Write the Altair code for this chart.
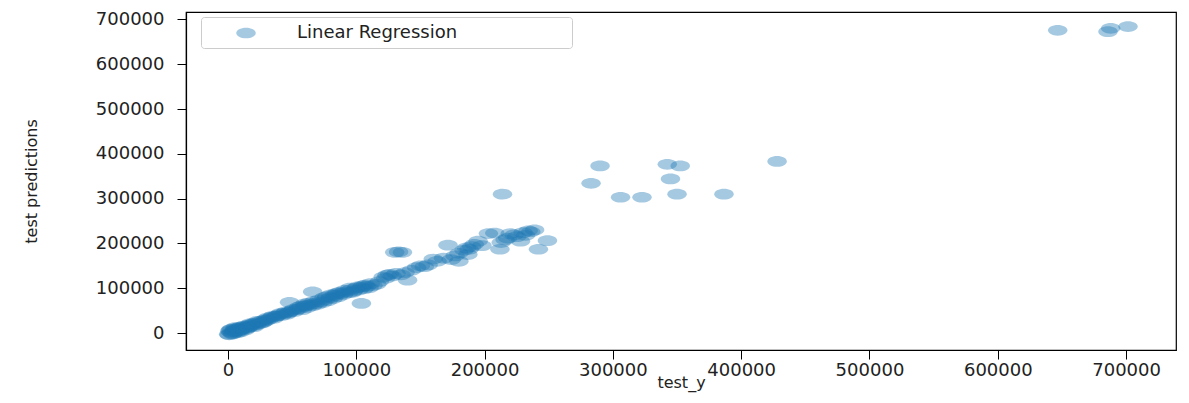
import altair as alt
import pandas as pd

test_y = [
    500, 1500, 2500, 3000, 4000, 5000, 5500, 6500, 7000, 8000, 9000, 10000, 11000, 12000, 13000,
    14000, 15000, 16000, 17000, 18000, 19000, 20000, 21000, 22500, 24000, 25000, 26500, 28000, 29000, 30000,
    32000, 34000, 36000, 38000, 40000, 42000, 44000, 46000, 48000, 50000, 52000, 54000, 56000, 58000,
    60000, 62000, 64000, 66000, 68000, 70000, 72000, 74000, 76000, 78000, 80000, 82000, 84000, 86000,
    88000, 90000, 92000, 94000, 96000, 98000, 100000, 102000, 104000, 106000, 108000, 110000, 113000, 116000,
    35000, 45000, 55000, 63000, 75000, 85000, 95000, 105000, 60000, 80000,
    1000, 2000, 3500, 4500, 6000, 7500, 8500, 9500, 11500, 13500, 15500, 17500, 20500, 23000, 27000,
    31000, 37000, 41000, 47000, 51000, 57000, 61000, 67000, 71000, 77000, 83000, 87000, 91000, 97000,
    101000, 107000, 111000, 118000,
    48000, 66000, 104000,
    121000, 124000, 126000, 123000, 128000, 131000, 135000, 138000, 130000, 133000, 136000, 140000,
    143000, 147000, 150000, 153000, 156000,
    160000, 163000, 168000, 171500, 174000, 177000, 180000, 184000, 186000, 188000, 190000, 192000,
    195000, 198000, 187000, 180000,
    203000, 208000, 212000, 213000, 216000, 218000, 220000, 223000, 225000, 228000, 230000, 232000,
    234000, 236000, 239000, 242000, 249000, 214000,
    283000, 290000, 306000, 322700, 342400, 344900, 350000, 352500, 386600, 428000,
    646700, 685900, 688000, 701500,
]
test_predictions = [
    -3000, 4000, 1000, 9000, -1000, 6000, 12000, 3000, 8000, 11000, 5000, 14000, 9000, 12000, 16000,
    10000, 15000, 13000, 18000, 16000, 20000, 17000, 22000, 19000, 24000, 21000, 27000, 25000, 30000, 28000,
    31000, 35000, 33000, 38000, 41000, 39000, 44000, 42000, 47000, 50000, 48000, 53000, 55000, 52000,
    60000, 57000, 63000, 61000, 66000, 64000, 70000, 68000, 75000, 72000, 79000, 77000, 84000, 81000,
    88000, 86000, 92000, 90000, 97000, 94000, 100000, 96000, 102000, 99000, 104000, 101000, 106000, 109000,
    38000, 47000, 58000, 67000, 79000, 89000, 100000, 105000, 65000, 85000,
    -4000, 7000, -2000, 3000, 10000, 1000, 6000, 2000, 13000, 7000, 11000, 21000, 14000, 26000, 23000,
    34000, 37000, 44000, 45000, 53000, 60000, 62000, 70000, 74000, 81000, 86000, 91000, 95000, 91000,
    103000, 107000, 110000, 115000,
    68500, 92000, 66000,
    125000, 129000, 131000, 122000, 127000, 133000, 130000, 135000, 180000, 181000, 180000, 118000,
    140000, 146000, 150000, 148000, 152000,
    165000, 160000, 167000, 196000, 164000, 172000, 178000, 185000, 190000, 187000, 193000, 198000,
    205000, 195000, 175000, 160000,
    222000, 223000, 187000, 202000, 208000, 212000, 222000, 219000, 215000, 205000, 224000, 218000,
    228000, 226000, 230000, 187000, 206000, 310000,
    334000, 373000, 303000, 303000, 376500, 344000, 310000, 373000, 310000, 383000,
    675700, 672600, 680000, 684000,
]
series_name = "Linear Regression"
x_ticks = [0, 100000, 200000, 300000, 400000, 500000, 600000, 700000]
y_ticks = [0, 100000, 200000, 300000, 400000, 500000, 600000, 700000]
x_domain = [-32700, 738900]
y_domain = [-37900, 716500]

df = pd.DataFrame({"test_y": test_y, "pred": test_predictions, "series": series_name})

# horizontally stretched marker, like the reference
ELLIPSE = "M -1 0 A 1 0.55 0 1 1 1 0 A 1 0.55 0 1 1 -1 0 Z"
pad = "\u2003" * 6 + "\u200b"

chart = alt.Chart(df).mark_point(
    shape=ELLIPSE, filled=True, size=380, opacity=0.4, strokeWidth=0, color="#1f77b4"
).encode(
    x=alt.X(
        "test_y:Q",
        scale=alt.Scale(domain=x_domain, nice=False, zero=False),
        axis=alt.Axis(values=x_ticks, format="d", title="test_y", labelPadding=2, titlePadding=-5,
                      tickSize=9),
    ),
    y=alt.Y(
        "pred:Q",
        scale=alt.Scale(domain=y_domain, nice=False, zero=False),
        axis=alt.Axis(values=y_ticks, format="d", title="test predictions", labelPadding=13,
                      titlePadding=56, tickSize=9),
    ),
    color=alt.Color(
        "series:N",
        scale=alt.Scale(range=["#1f77b4"]),
        legend=alt.Legend(
            title=None, orient="none", legendX=15, legendY=5,
            symbolType=ELLIPSE, symbolSize=380, symbolOpacity=0.4, symbolStrokeWidth=0,
            labelFont="DejaVu Sans", labelFontSize=18, labelColor="#222", labelLimit=500,
            labelExpr="datum.label + '" + pad + "'",
            padding=6, symbolOffset=29, labelOffset=41,
            strokeColor="#cccccc", fillColor="white", cornerRadius=3,
        ),
    ),
).properties(
    width=990, height=338,
    padding={"left": 23, "top": 10, "right": 5, "bottom": 5},
).configure_view(
    stroke="black", strokeWidth=1.2
).configure_axis(
    grid=False, domainColor="black", tickColor="black", domainWidth=1.2,
    labelFont="DejaVu Sans", labelFontSize=18, labelColor="#222",
    titleFont="DejaVu Sans", titleFontSize=16, titleFontWeight="normal", titleColor="#222",
)

chart.save("out.html", embed_options={"renderer": "svg", "actions": False})
